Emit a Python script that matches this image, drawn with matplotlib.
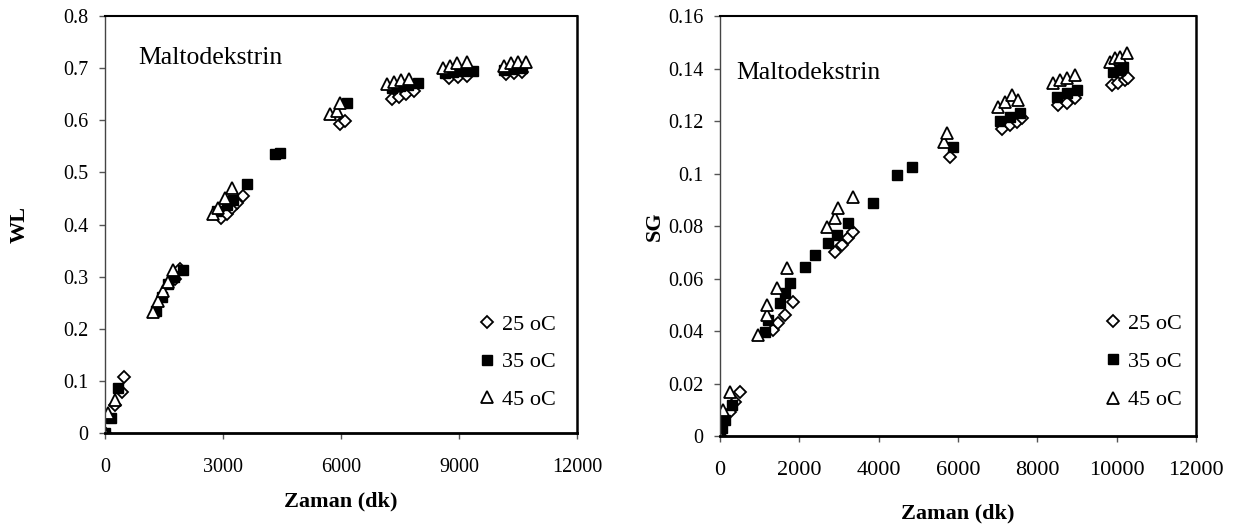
#!/usr/bin/python3
# Maltodekstrin WL and SG against time, three temperatures.
import matplotlib
matplotlib.use( 'Agg' )
import matplotlib.pyplot as plt
from matplotlib.ticker import FuncFormatter

plt.rcParams['font.family'] = ['Liberation Serif', 'DejaVu Serif']

#************** WL data (left) **************
wl_25_x = [0, 254, 432, 483, 1780, 1910, 2950, 3100, 3230, 3360, 3510, 5975, 6100,
           7300, 7480, 7660, 7850, 8750, 8980, 9200, 10200, 10400, 10600]
wl_25_y = [0, 0.054, 0.078, 0.107, 0.295, 0.314, 0.413, 0.421, 0.432, 0.442, 0.455, 0.593, 0.599,
           0.640, 0.644, 0.650, 0.656, 0.681, 0.683, 0.685, 0.688, 0.690, 0.692]

wl_35_x = [0, 150, 330, 1300, 1450, 1600, 1750, 1980, 2850, 3100, 3250, 3610, 4320, 4450, 6150,
           7300, 7500, 7700, 7950, 8650, 8850, 9100, 9350, 10150, 10350, 10600]
wl_35_y = [0, 0.029, 0.086, 0.235, 0.260, 0.285, 0.300, 0.312, 0.425, 0.437, 0.447, 0.478, 0.535, 0.538, 0.633,
           0.662, 0.665, 0.668, 0.672, 0.690, 0.692, 0.694, 0.695, 0.697, 0.699, 0.700]

wl_45_x = [0, 76, 254, 1220, 1348, 1475, 1602, 1729, 2746, 2873, 3051, 3229, 5720, 5900, 5975,
           7170, 7350, 7530, 7720, 8600, 8780, 8950, 9200, 10150, 10330, 10500, 10700]
wl_45_y = [0, 0.038, 0.063, 0.232, 0.254, 0.273, 0.289, 0.312, 0.421, 0.432, 0.451, 0.470, 0.612, 0.618, 0.633,
           0.670, 0.674, 0.677, 0.679, 0.700, 0.704, 0.710, 0.712, 0.705, 0.709, 0.711, 0.711]

#************** SG data (right) **************
sg_25_x = [0, 252, 378, 504, 1336, 1462, 1639, 1840, 2899, 3075, 3226, 3353, 5800,
           7108, 7310, 7486, 7612, 8520, 8747, 8949, 9882, 10033, 10209, 10285]
sg_25_y = [0, 0.0091, 0.013, 0.0168, 0.0404, 0.043, 0.046, 0.051, 0.070, 0.0728, 0.0754, 0.0777, 0.1063,
           0.117, 0.1185, 0.1196, 0.121, 0.126, 0.127, 0.1288, 0.1337, 0.1345, 0.1356, 0.1364]

sg_35_x = [0, 50, 126, 302, 1134, 1210, 1512, 1639, 1765, 2142, 2394, 2722, 2949, 3226, 3857,
           4462, 4840, 5873, 7058, 7310, 7562, 8495, 8747, 9000, 9907, 10083, 10159]
sg_35_y = [0, 0.003, 0.006, 0.012, 0.0396, 0.0442, 0.0507, 0.0545, 0.0583, 0.0644, 0.069, 0.0735, 0.0766, 0.081, 0.0888,
           0.0995, 0.1025, 0.110, 0.120, 0.1215, 0.123, 0.129, 0.1307, 0.1318, 0.1387, 0.1394, 0.1406]

sg_45_x = [0, 76, 252, 958, 1185, 1185, 1437, 1689, 2697, 2899, 2975, 3353, 5650, 5722,
           7007, 7183, 7360, 7511, 8394, 8570, 8747, 8949, 9831, 9957, 10083, 10260]
sg_45_y = [0, 0.0099, 0.0168, 0.0385, 0.046, 0.050, 0.0564, 0.064, 0.0796, 0.083, 0.0869, 0.091, 0.112, 0.1154,
           0.1253, 0.1272, 0.130, 0.128, 0.1345, 0.1356, 0.1364, 0.1375, 0.1425, 0.144, 0.1444, 0.1459]

labels = ['25 oC', '35 oC', '45 oC']

def zero_fmt( v, pos ):
    # 0 printed as plain 0, others as short decimals.
    if abs( v ) < 1e-12:
        return '0'
    return '%g' % v

def plot_panel( ax, series, ylim, ystep, xstep, ylabel, xtick_size, note_xy, leg_anchor, leg_space ):
    mk = [ dict( marker='D', ms=6.5, mfc='white', mec='black', mew=1.3 ),
           dict( marker='s', ms=7, mfc='black', mec='black', mew=1.0 ),
           dict( marker='^', ms=8.5, mfc='white', mec='black', mew=1.3 ) ]
    for ( xs, ys ), st, lab in zip( series, mk, labels ):
        ax.plot( xs, ys, ls='none', label=lab, **st )

    ax.set_xlim( 0, 12000 )
    ax.set_ylim( 0, ylim )
    ax.set_xticks( [ i * xstep for i in range( int( 12000 / xstep ) + 1 ) ] )
    ax.set_yticks( [ i * ystep for i in range( int( round( ylim / ystep ) ) + 1 ) ] )
    ax.yaxis.set_major_formatter( FuncFormatter( zero_fmt ) )
    ax.tick_params( direction='out', length=4, width=1, color='#555555' )
    ax.tick_params( axis='y', pad=8, labelsize=14.5 )
    ax.tick_params( axis='x', pad=14, labelsize=xtick_size )

    ax.spines['left'].set_linewidth( 1.0 )
    ax.spines['left'].set_color( '#444444' )
    ax.spines['top'].set_linewidth( 1.5 )
    ax.spines['right'].set_linewidth( 1.8 )
    ax.spines['bottom'].set_linewidth( 2.0 )

    ax.set_xlabel( 'Zaman (dk)', fontsize=16, fontweight='bold' )
    ax.set_ylabel( ylabel, fontsize=16, fontweight='bold' )
    ax.text( note_xy[0], note_xy[1], 'Maltodekstrin', transform=ax.transAxes,
             fontsize=18.5, va='center', ha='left' )

    ax.legend( loc='lower right', bbox_to_anchor=leg_anchor, frameon=False,
               fontsize=16, handlelength=0.8, handletextpad=0.3, labelspacing=leg_space,
               borderaxespad=0 )

fig = plt.figure( figsize=( 12.56, 5.28 ), dpi=100 )
ax1 = fig.add_axes( [ 0.0836, 0.1799, 0.3758, 0.7898 ] )
ax2 = fig.add_axes( [ 0.5732, 0.1742, 0.3790, 0.7955 ] )

plot_panel( ax1, [ ( wl_25_x, wl_25_y ), ( wl_35_x, wl_35_y ), ( wl_45_x, wl_45_y ) ],
            0.8, 0.1, 3000, 'WL', 14.5, ( 0.07, 0.9 ), ( 0.975, 0.035 ), 0.75 )
plot_panel( ax2, [ ( sg_25_x, sg_25_y ), ( sg_35_x, sg_35_y ), ( sg_45_x, sg_45_y ) ],
            0.16, 0.02, 2000, 'SG', 16, ( 0.035, 0.865 ), ( 0.99, 0.04 ), 0.8 )

ax1.yaxis.set_label_coords( -0.16, 0.5 )
ax2.yaxis.set_label_coords( -0.115, 0.5 )
ax1.xaxis.set_label_coords( 0.5, -0.14 )
ax2.xaxis.set_label_coords( 0.5, -0.16 )

fig.savefig( 'out.png', dpi=100 )
plt.close()
